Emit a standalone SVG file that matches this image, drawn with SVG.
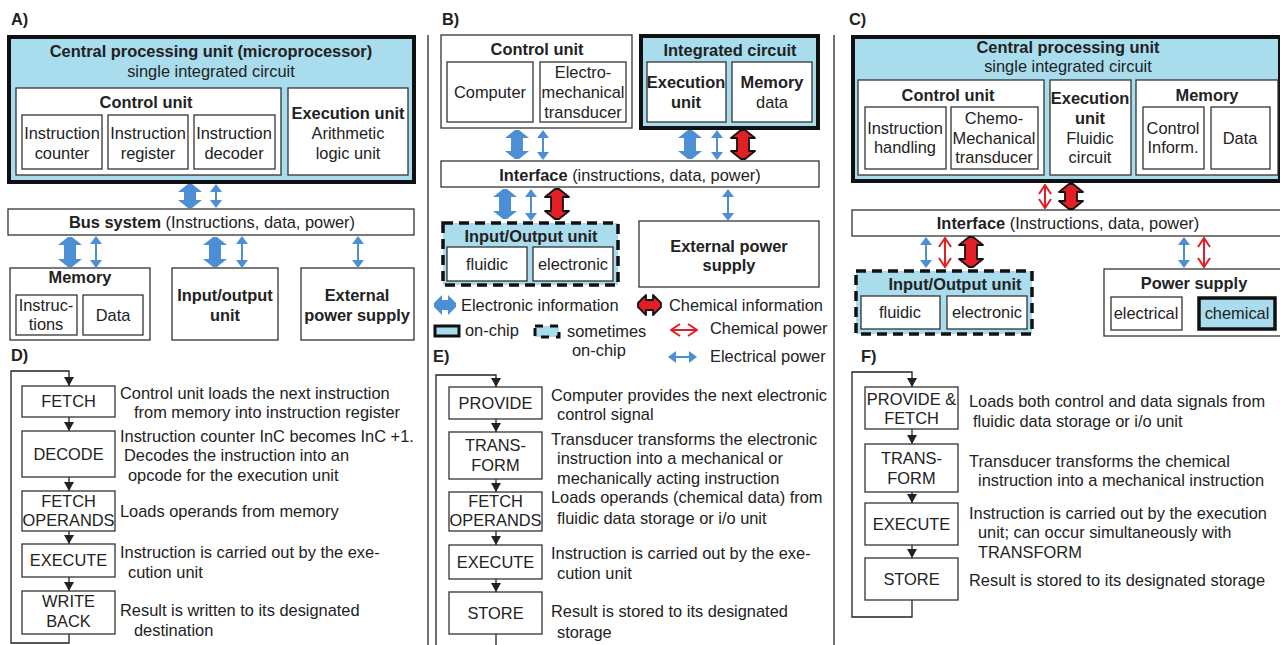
<svg xmlns="http://www.w3.org/2000/svg" width="1280" height="645" viewBox="0 0 1280 645">
<style>
.t{font-family:"Liberation Sans",Arial,sans-serif;font-size:16.4px;fill:#222}
.b{font-weight:bold}
.m{text-anchor:middle}
.box{fill:#fff;stroke:#333;stroke-width:1.3}
.chip{fill:#a9dcec;stroke:#111;stroke-width:4}
.dash{fill:#a9dcec;stroke:#111;stroke-width:3.5;stroke-dasharray:10 6}
.sep{stroke:#444;stroke-width:1.5;fill:none}
.flow{stroke:#222;stroke-width:1.3;fill:none}
.tb{fill:#4d8fd5}
.tr{fill:#e31e24;stroke:#111;stroke-width:1.8;stroke-linejoin:round}
.lb{stroke:#4d8fd5;stroke-width:2;fill:none}
.lr{stroke:#e31e24;stroke-width:2;fill:none}
</style>
<defs>
<marker id="ab" viewBox="0 0 8 12" refX="4" refY="6" markerWidth="8" markerHeight="12" markerUnits="userSpaceOnUse" orient="auto-start-reverse"><path d="M0,0 L8,6 L0,12 z" fill="#4d8fd5"/></marker>
<marker id="ar" viewBox="-1 -1 11 14" refX="9" refY="6" markerWidth="11" markerHeight="14" markerUnits="userSpaceOnUse" orient="auto-start-reverse"><path d="M0,0 L9,6 L0,12" fill="none" stroke="#e31e24" stroke-width="2"/></marker>
<marker id="ak" viewBox="0 0 9 10" refX="9" refY="5" markerWidth="9" markerHeight="10" markerUnits="userSpaceOnUse" orient="auto"><path d="M0,0 L9,5 L0,10 z" fill="#222"/></marker>
</defs>

<!-- separators -->
<line class="sep" x1="428" y1="35" x2="428" y2="645"/>
<line class="sep" x1="834" y1="35" x2="834" y2="645"/>

<!-- Panel labels -->
<text class="t b" x="11" y="25">A)</text>
<text class="t b" x="442" y="25">B)</text>
<text class="t b" x="849" y="25">C)</text>
<text class="t b" x="11" y="361">D)</text>
<text class="t b" x="433" y="362">E)</text>
<text class="t b" x="861" y="362">F)</text>

<!-- ===== Panel A ===== -->
<g id="a-cpu">
<rect class="chip" x="9" y="37" width="405" height="145"/>
<text class="t b m" x="211" y="57">Central processing unit (microprocessor)</text>
<text class="t m" x="211" y="77">single integrated circuit</text>
</g>
<g id="a-control">
<rect class="box" x="16" y="88" width="265" height="87"/>
<text class="t b m" x="146" y="108">Control unit</text>
</g>
<g id="a-counter"><rect class="box" x="22" y="115" width="80" height="54"/>
<text class="t m" x="62" y="139">Instruction</text><text class="t m" x="62" y="159">counter</text></g>
<g id="a-register"><rect class="box" x="108" y="115" width="80" height="54"/>
<text class="t m" x="148" y="139">Instruction</text><text class="t m" x="148" y="159">register</text></g>
<g id="a-decoder"><rect class="box" x="194" y="115" width="81" height="54"/>
<text class="t m" x="234" y="139">Instruction</text><text class="t m" x="234" y="159">decoder</text></g>
<g id="a-exec"><rect class="box" x="288" y="88" width="120" height="87"/>
<text class="t b m" x="348" y="119">Execution unit</text>
<text class="t m" x="348" y="139">Arithmetic</text><text class="t m" x="348" y="159">logic unit</text></g>
<g id="a-bus"><rect class="box" x="8" y="209" width="406" height="26"/>
<text class="t m" x="212" y="228"><tspan class="b">Bus system</tspan> (Instructions, data, power)</text></g>
<g id="a-memory"><rect class="box" x="10" y="268" width="140" height="72"/>
<text class="t b m" x="80" y="283">Memory</text>
<rect class="box" x="16" y="295" width="61" height="40"/>
<text class="t m" x="46" y="311">Instruc-</text><text class="t m" x="46" y="330">tions</text>
<rect class="box" x="83" y="295" width="60" height="40"/>
<text class="t m" x="113" y="321">Data</text></g>
<g id="a-io"><rect class="box" x="172" y="268" width="106" height="72"/>
<text class="t b m" x="225" y="301">Input/output</text><text class="t b m" x="225" y="321">unit</text></g>
<g id="a-power"><rect class="box" x="301" y="268" width="113" height="72"/>
<text class="t b m" x="357" y="301">External</text><text class="t b m" x="357" y="321">power supply</text></g>

<!-- ===== Panel B ===== -->
<g id="b-control"><rect class="box" x="441" y="35" width="191" height="93"/>
<text class="t b m" x="537" y="55">Control unit</text>
<rect class="box" x="447" y="62" width="86" height="60"/>
<text class="t m" x="490" y="98">Computer</text>
<rect class="box" x="540" y="62" width="86" height="60"/>
<text class="t m" x="583" y="78">Electro-</text><text class="t m" x="583" y="98">mechanical</text><text class="t m" x="583" y="118">transducer</text></g>
<g id="b-ic"><rect class="chip" x="641" y="36" width="177" height="92"/>
<text class="t b m" x="730" y="56">Integrated circuit</text>
<rect class="box" x="647" y="62" width="79" height="60"/>
<text class="t b m" x="686" y="88">Execution</text><text class="t b m" x="686" y="108">unit</text>
<rect class="box" x="732" y="62" width="80" height="60"/>
<text class="t b m" x="772" y="88">Memory</text><text class="t m" x="772" y="108">data</text></g>
<g id="b-interface"><rect class="box" x="441" y="161" width="378" height="26"/>
<text class="t m" x="630" y="181"><tspan class="b">Interface</tspan> (instructions, data, power)</text></g>
<g id="b-io"><rect class="dash" x="443" y="223" width="175" height="62"/>
<text class="t b m" x="531" y="242">Input/Output unit</text>
<rect class="box" x="447" y="247" width="80" height="34"/>
<text class="t m" x="487" y="270">fluidic</text>
<rect class="box" x="533" y="247" width="80" height="34"/>
<text class="t m" x="573" y="270">electronic</text></g>
<g id="b-power"><rect class="box" x="639" y="221" width="180" height="66"/>
<text class="t b m" x="729" y="252">External power</text><text class="t b m" x="729" y="271">supply</text></g>

<!-- legend -->
<g id="legend">
<polygon class="tb" points="434,303 442,295 442,300 448,300 448,295 456,303 456,307 448,315 448,310 442,310 442,315 434,307"/>
<text class="t" x="461" y="311">Electronic information</text>
<polygon class="tr" points="638,303 646,295 646,300 653,300 653,295 661,303 661,307 653,315 653,310 646,310 646,315 638,307"/>
<text class="t" x="669" y="311">Chemical information</text>
<rect class="chip" x="435" y="326" width="24" height="10" style="stroke-width:3"/>
<text class="t" x="465" y="336">on-chip</text>
<rect class="dash" x="535" y="326" width="24" height="11" style="stroke-width:3;stroke-dasharray:8 7"/>
<text class="t" x="567" y="337">sometimes</text>
<text class="t" x="572" y="356">on-chip</text>
<line class="lr" x1="671" y1="330" x2="697" y2="330" marker-start="url(#ar)" marker-end="url(#ar)"/>
<text class="t" x="710" y="334">Chemical power</text>
<line class="lb" x1="672" y1="357" x2="693" y2="357" marker-start="url(#ab)" marker-end="url(#ab)"/>
<text class="t" x="710" y="362">Electrical power</text>
</g>

<!-- ===== Panel C ===== -->
<g id="c-cpu"><rect class="chip" x="853" y="37" width="427" height="144"/>
<text class="t b m" x="1068" y="53">Central processing unit</text>
<text class="t m" x="1068" y="72">single integrated circuit</text></g>
<g id="c-control"><rect class="box" x="858" y="80" width="186" height="95"/>
<text class="t b m" x="948" y="101">Control unit</text>
<rect class="box" x="865" y="107" width="81" height="62"/>
<text class="t m" x="905" y="134">Instruction</text><text class="t m" x="905" y="153">handling</text>
<rect class="box" x="951" y="107" width="87" height="62"/>
<text class="t m" x="994" y="124">Chemo-</text><text class="t m" x="994" y="144">Mechanical</text><text class="t m" x="994" y="163">transducer</text></g>
<g id="c-exec"><rect class="box" x="1050" y="80" width="81" height="95"/>
<text class="t b m" x="1090" y="104">Execution</text><text class="t b m" x="1090" y="124">unit</text>
<text class="t m" x="1090" y="144">Fluidic</text><text class="t m" x="1090" y="163">circuit</text></g>
<g id="c-memory"><rect class="box" x="1136" y="80" width="142" height="95"/>
<text class="t b m" x="1207" y="101">Memory</text>
<rect class="box" x="1143" y="107" width="61" height="62"/>
<text class="t m" x="1173" y="134">Control</text><text class="t m" x="1173" y="153">Inform.</text>
<rect class="box" x="1211" y="107" width="59" height="62"/>
<text class="t m" x="1240" y="144">Data</text></g>
<g id="c-interface"><rect class="box" x="852" y="210" width="432" height="26"/>
<text class="t m" x="1068" y="229"><tspan class="b">Interface</tspan> (Instructions, data, power)</text></g>
<g id="c-io"><rect class="dash" x="856" y="271" width="176" height="63"/>
<text class="t b m" x="955" y="290">Input/Output unit</text>
<rect class="box" x="861" y="296" width="79" height="33"/>
<text class="t m" x="900" y="318">fluidic</text>
<rect class="box" x="947" y="296" width="80" height="33"/>
<text class="t m" x="987" y="318">electronic</text></g>
<g id="c-power"><rect class="box" x="1104" y="269" width="180" height="67"/>
<text class="t b m" x="1194" y="289">Power supply</text>
<rect class="box" x="1111" y="297" width="71" height="33"/>
<text class="t m" x="1146" y="319">electrical</text>
<rect class="chip" x="1199" y="298" width="76" height="31" style="stroke-width:3.5"/>
<text class="t m" x="1237" y="319">chemical</text></g>

<!-- ===== connectors (panels A-C) ===== -->
<g id="connectors">
<polygon class="tb" points="188,184 192,184 202,192 196,192 196,200 202,200 192,208 188,208 178,200 184,200 184,192 178,192"/>
<line class="lb" x1="216" y1="188" x2="216" y2="204" marker-start="url(#ab)" marker-end="url(#ab)"/>
<polygon class="tb" points="68,237 72,237 82,245 76,245 76,259 82,259 72,267 68,267 58,259 64,259 64,245 58,245"/>
<line class="lb" x1="96" y1="240" x2="96" y2="264" marker-start="url(#ab)" marker-end="url(#ab)"/>
<polygon class="tb" points="213,237 217,237 227,245 221,245 221,259 227,259 217,267 213,267 203,259 209,259 209,245 203,245"/>
<line class="lb" x1="242" y1="240" x2="242" y2="264" marker-start="url(#ab)" marker-end="url(#ab)"/>
<line class="lb" x1="358" y1="240" x2="358" y2="264" marker-start="url(#ab)" marker-end="url(#ab)"/>

<polygon class="tb" points="515,130 519,130 529,138 523,138 523,151 529,151 519,159 515,159 505,151 511,151 511,138 505,138"/>
<line class="lb" x1="543" y1="134" x2="543" y2="156" marker-start="url(#ab)" marker-end="url(#ab)"/>
<polygon class="tb" points="688,130 692,130 702,138 696,138 696,151 702,151 692,159 688,159 678,151 684,151 684,138 678,138"/>
<line class="lb" x1="717" y1="134" x2="717" y2="156" marker-start="url(#ab)" marker-end="url(#ab)"/>
<polygon class="tr" points="741,130 745,130 755,138 749,138 749,151 755,151 745,159 741,159 731,151 737,151 737,138 731,138"/>
<polygon class="tb" points="503,189 507,189 517,197 511,197 511,211 517,211 507,219 503,219 493,211 499,211 499,197 493,197"/>
<line class="lb" x1="531" y1="193" x2="531" y2="217" marker-start="url(#ab)" marker-end="url(#ab)"/>
<polygon class="tr" points="555,189 559,189 569,197 563,197 563,211 569,211 559,219 555,219 545,211 551,211 551,197 545,197"/>
<line class="lb" x1="728" y1="193" x2="728" y2="217" marker-start="url(#ab)" marker-end="url(#ab)"/>

<line class="lr" x1="1045" y1="185" x2="1045" y2="208" marker-start="url(#ar)" marker-end="url(#ar)"/>
<polygon class="tr" points="1069,184 1073,184 1083,192 1077,192 1077,201 1083,201 1073,209 1069,209 1059,201 1065,201 1065,192 1059,192"/>
<line class="lb" x1="926" y1="241" x2="926" y2="264" marker-start="url(#ab)" marker-end="url(#ab)"/>
<line class="lr" x1="945" y1="238" x2="945" y2="267" marker-start="url(#ar)" marker-end="url(#ar)"/>
<polygon class="tr" points="969,237 973,237 983,245 977,245 977,259 983,259 973,267 969,267 959,259 965,259 965,245 959,245"/>
<line class="lb" x1="1184" y1="241" x2="1184" y2="264" marker-start="url(#ab)" marker-end="url(#ab)"/>
<line class="lr" x1="1204" y1="238" x2="1204" y2="267" marker-start="url(#ar)" marker-end="url(#ar)"/>
</g>

<!-- ===== Panel D flow ===== -->
<g id="d-flow-lines">
<path class="flow" d="M69,634 V643 H11 V371 H69 V386" marker-end="url(#ak)"/>
<line class="flow" x1="69" y1="417" x2="69" y2="431" marker-end="url(#ak)"/>
<line class="flow" x1="69" y1="477" x2="69" y2="491" marker-end="url(#ak)"/>
<line class="flow" x1="69" y1="531" x2="69" y2="544" marker-end="url(#ak)"/>
<line class="flow" x1="69" y1="577" x2="69" y2="591" marker-end="url(#ak)"/>
</g>
<g id="d-fetch"><rect class="box" x="22" y="386" width="93" height="31"/><text class="t m" x="68.5" y="407">FETCH</text>
<text class="t" x="120" y="399">Control unit loads the next instruction</text><text class="t" x="134" y="418">from memory into instruction register</text></g>
<g id="d-decode"><rect class="box" x="22" y="431" width="93" height="46"/><text class="t m" x="68.5" y="460">DECODE</text>
<text class="t" x="120" y="442">Instruction counter InC becomes InC +1.</text><text class="t" x="124" y="461">Decodes the instruction into an</text><text class="t" x="128" y="481">opcode for the execution unit</text></g>
<g id="d-operands"><rect class="box" x="22" y="491" width="93" height="40"/><text class="t m" x="68.5" y="507">FETCH</text><text class="t m" x="68.5" y="526">OPERANDS</text>
<text class="t" x="120" y="517">Loads operands from memory</text></g>
<g id="d-execute"><rect class="box" x="22" y="544" width="93" height="33"/><text class="t m" x="68.5" y="566">EXECUTE</text>
<text class="t" x="120" y="558">Instruction is carried out by the exe-</text><text class="t" x="128" y="578">cution unit</text></g>
<g id="d-writeback"><rect class="box" x="22" y="591" width="93" height="43"/><text class="t m" x="68.5" y="607">WRITE</text><text class="t m" x="68.5" y="627">BACK</text>
<text class="t" x="120" y="616">Result is written to its designated</text><text class="t" x="134" y="636">destination</text></g>

<!-- ===== Panel E flow ===== -->
<g id="e-flow-lines">
<path class="flow" d="M496,634 V650 M436,650 V375 H496 V387" marker-end="url(#ak)"/>
<line class="flow" x1="496" y1="419" x2="496" y2="432" marker-end="url(#ak)"/>
<line class="flow" x1="496" y1="479" x2="496" y2="492" marker-end="url(#ak)"/>
<line class="flow" x1="496" y1="531" x2="496" y2="545" marker-end="url(#ak)"/>
<line class="flow" x1="496" y1="579" x2="496" y2="592" marker-end="url(#ak)"/>
</g>
<g id="e-provide"><rect class="box" x="449" y="387" width="93" height="32"/><text class="t m" x="495.5" y="409">PROVIDE</text>
<text class="t" x="551" y="401">Computer provides the next electronic</text><text class="t" x="557" y="420">control signal</text></g>
<g id="e-transform"><rect class="box" x="449" y="432" width="93" height="47"/><text class="t m" x="495.5" y="451">TRANS-</text><text class="t m" x="495.5" y="471">FORM</text>
<text class="t" x="551" y="445">Transducer transforms the electronic</text><text class="t" x="557" y="464">instruction into a mechanical or</text><text class="t" x="557" y="484">mechanically acting instruction</text></g>
<g id="e-operands"><rect class="box" x="449" y="492" width="93" height="39"/><text class="t m" x="495.5" y="507">FETCH</text><text class="t m" x="495.5" y="526">OPERANDS</text>
<text class="t" x="551" y="503">Loads operands (chemical data) from</text><text class="t" x="557" y="524">fluidic data storage or i/o unit</text></g>
<g id="e-execute"><rect class="box" x="449" y="545" width="93" height="34"/><text class="t m" x="495.5" y="568">EXECUTE</text>
<text class="t" x="551" y="559">Instruction is carried out by the exe-</text><text class="t" x="557" y="579">cution unit</text></g>
<g id="e-store"><rect class="box" x="449" y="592" width="93" height="42"/><text class="t m" x="495.5" y="619">STORE</text>
<text class="t" x="551" y="617">Result is stored to its designated</text><text class="t" x="557" y="638">storage</text></g>

<!-- ===== Panel F flow ===== -->
<g id="f-flow-lines">
<path class="flow" d="M912,600 V617 H852 V372 H912 V387" marker-end="url(#ak)"/>
<line class="flow" x1="912" y1="429" x2="912" y2="444" marker-end="url(#ak)"/>
<line class="flow" x1="912" y1="492" x2="912" y2="503" marker-end="url(#ak)"/>
<line class="flow" x1="912" y1="545" x2="912" y2="558" marker-end="url(#ak)"/>
</g>
<g id="f-provide"><rect class="box" x="865" y="387" width="93" height="42"/><text class="t m" x="911.5" y="405">PROVIDE &amp;</text><text class="t m" x="911.5" y="424">FETCH</text>
<text class="t" x="969" y="407">Loads both control and data signals from</text><text class="t" x="973" y="427">fluidic data storage or i/o unit</text></g>
<g id="f-transform"><rect class="box" x="865" y="444" width="93" height="48"/><text class="t m" x="911.5" y="464">TRANS-</text><text class="t m" x="911.5" y="484">FORM</text>
<text class="t" x="969" y="467">Transducer transforms the chemical</text><text class="t" x="978" y="486">instruction into a mechanical instruction</text></g>
<g id="f-execute"><rect class="box" x="865" y="503" width="93" height="42"/><text class="t m" x="911.5" y="530">EXECUTE</text>
<text class="t" x="969" y="519">Instruction is carried out by the execution</text><text class="t" x="978" y="538">unit; can occur simultaneously with</text><text class="t" x="978" y="558">TRANSFORM</text></g>
<g id="f-store"><rect class="box" x="865" y="558" width="93" height="42"/><text class="t m" x="911.5" y="585">STORE</text>
<text class="t" x="969" y="586">Result is stored to its designated storage</text></g>
</svg>
